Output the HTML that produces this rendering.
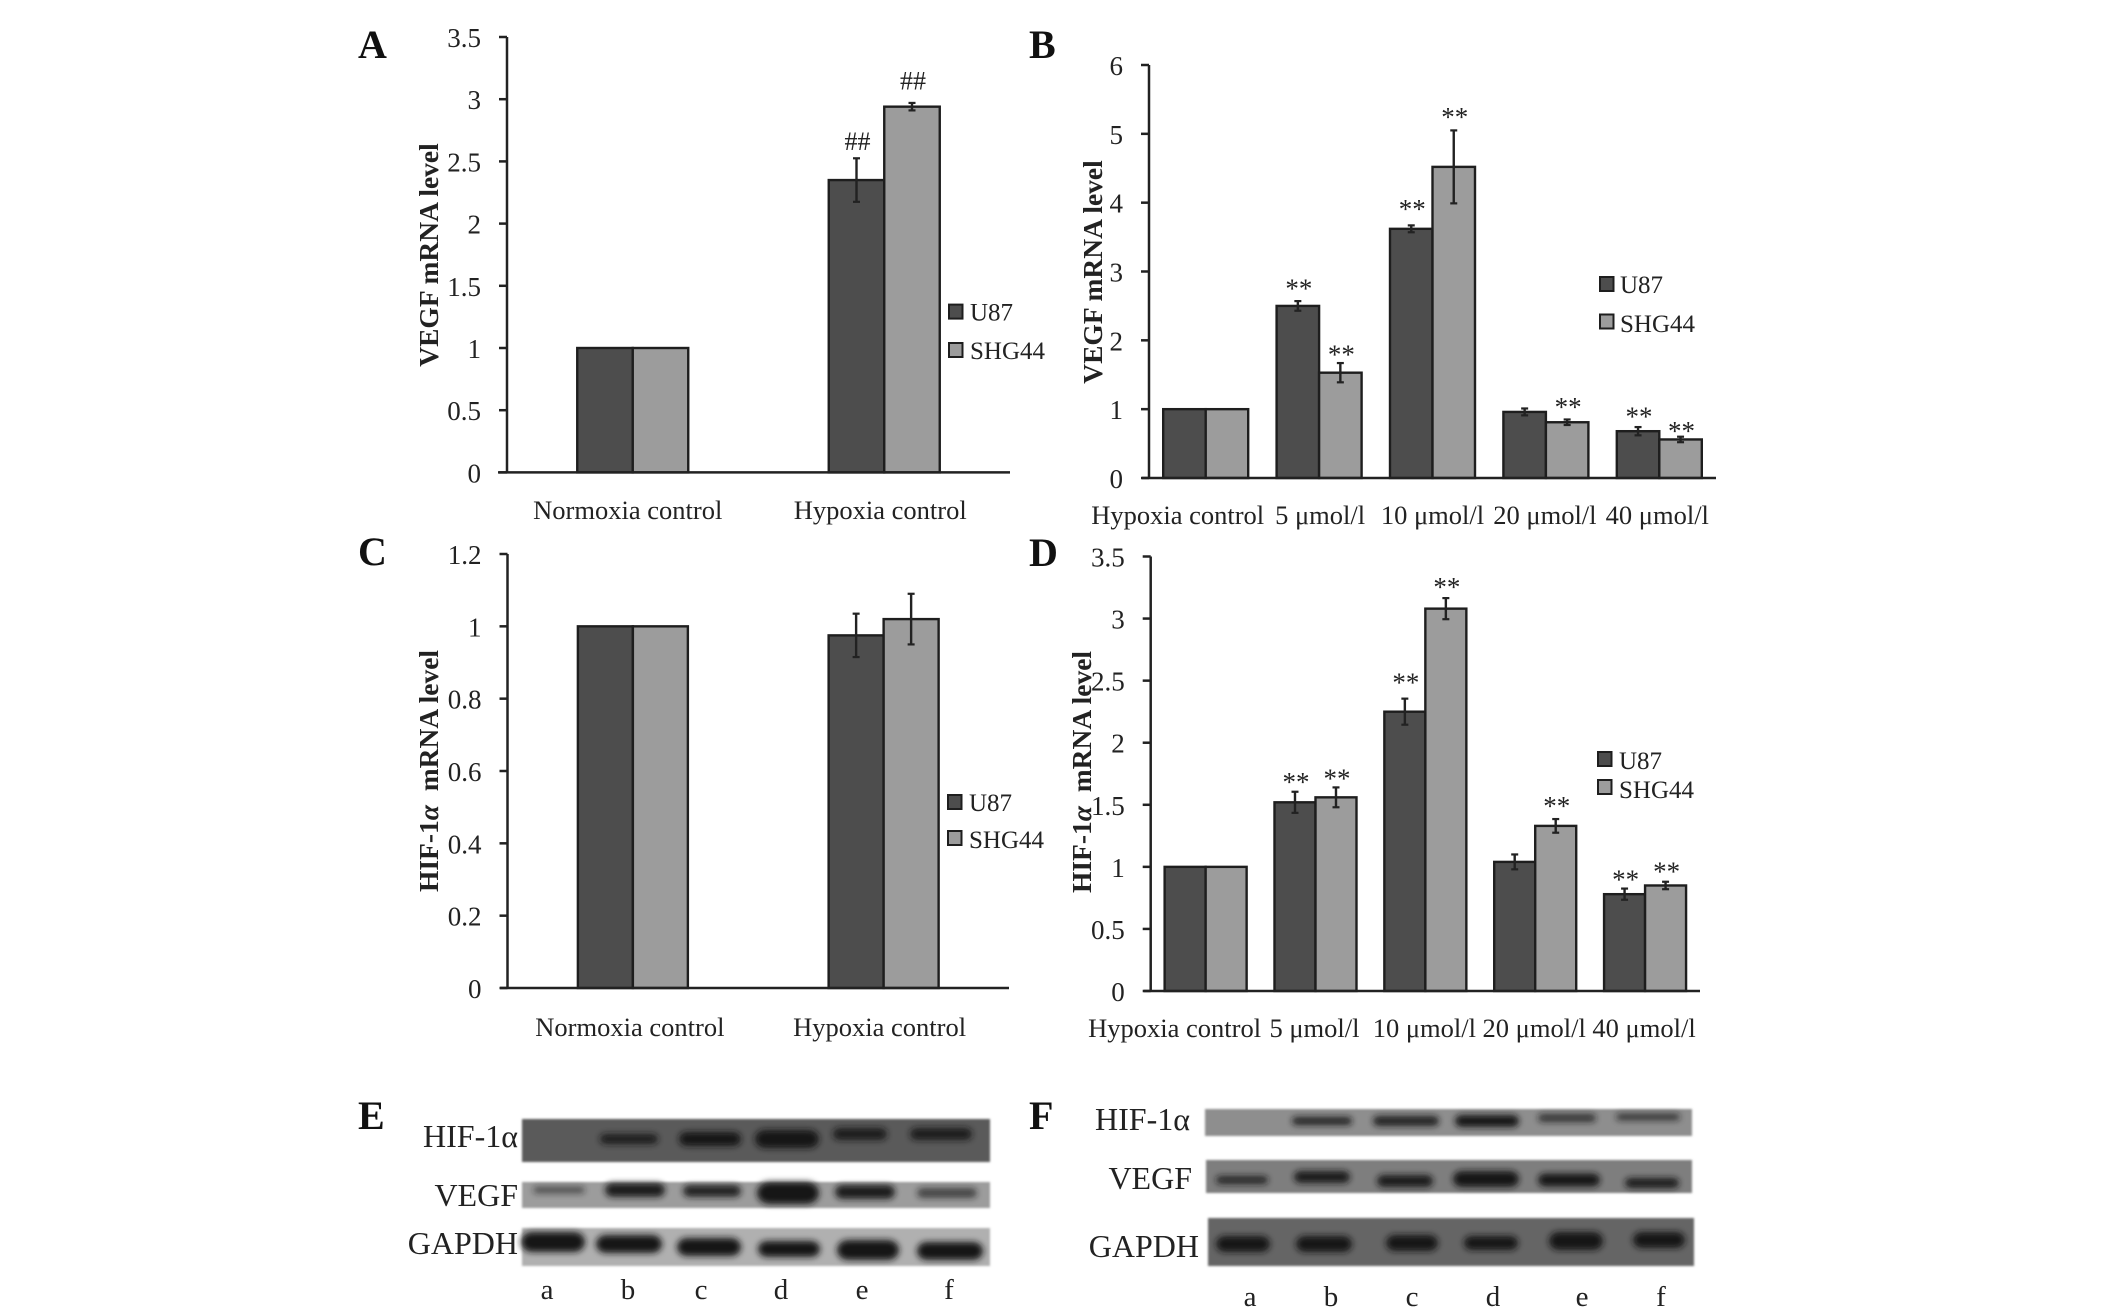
<!DOCTYPE html>
<html>
<head>
<meta charset="utf-8">
<title>VEGF and HIF-1α expression figure</title>
<style>
html,body{margin:0;padding:0;background:#fff;}
svg{display:block;font-family:"Liberation Serif",serif;fill:#222;}
.letter{font-size:40px;font-weight:bold;fill:#111;}
.ytitle{font-size:27.5px;font-weight:bold;fill:#222;text-anchor:middle;}
.blot-label{font-size:32px;fill:#222;text-anchor:end;}
.lane{font-size:29px;fill:#222;text-anchor:middle;}
</style>
</head>
<body>
<svg id="figure" xmlns="http://www.w3.org/2000/svg" width="2126" height="1315" viewBox="0 0 2126 1315">
  <defs>
    <filter id="band-blur" x="-30%" y="-100%" width="160%" height="300%"><feGaussianBlur stdDeviation="3.2"/></filter>
    <filter id="strip-blur" x="-2%" y="-10%" width="104%" height="120%"><feGaussianBlur stdDeviation="1.1"/></filter>
  </defs>

  <text class="letter" x="358" y="58">A</text>
  <text class="letter" x="1029" y="58">B</text>
  <text class="letter" x="358" y="565">C</text>
  <text class="letter" x="1029" y="566">D</text>
  <text class="letter" x="358" y="1129">E</text>
  <text class="letter" x="1029" y="1129">F</text>

  <text class="ytitle" transform="translate(438,255) rotate(-90)">VEGF mRNA level</text>
  <text class="ytitle" transform="translate(1102,272) rotate(-90)">VEGF mRNA level</text>
  <text class="ytitle" transform="translate(438,771) rotate(-90)" xml:space="preserve">HIF-1<tspan font-style="italic">α</tspan>  mRNA level</text>
  <text class="ytitle" transform="translate(1091,772) rotate(-90)" xml:space="preserve">HIF-1<tspan font-style="italic">α</tspan>  mRNA level</text>

  <g id="charts"></g>
  <g id="blots"></g>

  <text class="blot-label" x="518" y="1147">HIF-1α</text>
  <text class="blot-label" x="518" y="1206">VEGF</text>
  <text class="blot-label" x="518" y="1254">GAPDH</text>
  <text class="blot-label" x="1190" y="1130">HIF-1α</text>
  <text class="blot-label" x="1192" y="1189">VEGF</text>
  <text class="blot-label" x="1199" y="1257">GAPDH</text>
</svg>

<script>
const seriesNames = ['U87', 'SHG44'];
const seriesFills = ['#4d4d4d', '#9c9c9c'];

const twoCategoriesA = ['Normoxia control', 'Hypoxia control'];
const doseCategories = ['Hypoxia control', '5 μmol/l', '10 μmol/l', '20 μmol/l', '40 μmol/l'];

const ticksA = ['0', '0.5', '1', '1.5', '2', '2.5', '3', '3.5'];
const u87A = [1, 2.35];
const shgA = [1, 2.94];
const u87ErrA = [0, 0.175];
const shgErrA = [0, 0.03];
const u87MarkA = [null, 2.65];
const shgMarkA = [null, 3.14];

const ticksB = ['0', '1', '2', '3', '4', '5', '6'];
const u87B = [1, 2.5, 3.62, 0.96, 0.68];
const shgB = [1, 1.53, 4.52, 0.81, 0.56];
const u87ErrB = [0, 0.07, 0.05, 0.05, 0.06];
const shgErrB = [0, 0.14, 0.53, 0.04, 0.04];
const u87MarkB = [null, 2.78, 3.94, null, 0.92];
const shgMarkB = [null, 1.82, 5.27, 1.06, 0.715];

const ticksC = ['0', '0.2', '0.4', '0.6', '0.8', '1', '1.2'];
const u87C = [1, 0.975];
const shgC = [1, 1.02];
const u87ErrC = [0, 0.06];
const shgErrC = [0, 0.07];
const u87MarkC = [null, null];
const shgMarkC = [null, null];

const ticksD = ['0', '0.5', '1', '1.5', '2', '2.5', '3', '3.5'];
const u87D = [1, 1.52, 2.25, 1.04, 0.78];
const shgD = [1, 1.56, 3.08, 1.33, 0.85];
const u87ErrD = [0, 0.085, 0.105, 0.06, 0.045];
const shgErrD = [0, 0.08, 0.085, 0.055, 0.03];
const u87MarkD = [null, 1.70, 2.50, null, 0.915];
const shgMarkD = [null, 1.728, 3.27, 1.507, 0.977];

const panels = [
  {id:'a', cats:twoCategoriesA, ticks:ticksA, u87:u87A, shg:shgA, ue:u87ErrA, se:shgErrA, um:u87MarkA, sm:shgMarkA, mark:'##',
   left:507, right:1010, start:498, top:37, base:472.4, barW:55.5, catY:519, catShift:[-5,-4],
   legX:949, legTextX:970, legY:[304.6,343], legBase:[320.5,359]},
  {id:'b', cats:doseCategories, ticks:ticksB, u87:u87B, shg:shgB, ue:u87ErrB, se:shgErrB, um:u87MarkB, sm:shgMarkB, mark:'**',
   left:1149, right:1716, start:1142, top:65, base:478, barW:42.5, catY:524, catShift:[-28,1,0,-1,-2],
   legX:1600, legTextX:1620, legY:[277,314.5], legBase:[293,332]},
  {id:'c', cats:twoCategoriesA, ticks:ticksC, u87:u87C, shg:shgC, ue:u87ErrC, se:shgErrC, um:u87MarkC, sm:shgMarkC, mark:'',
   left:507.5, right:1009, start:500, top:554, base:988, barW:55, catY:1036, catShift:[-3,-4],
   legX:948, legTextX:969, legY:[795,831], legBase:[811,848]},
  {id:'d', cats:doseCategories, ticks:ticksD, u87:u87D, shg:shgD, ue:u87ErrD, se:shgErrD, um:u87MarkD, sm:shgMarkD, mark:'**',
   left:1150.7, right:1700, start:1143.6, top:556.5, base:991, barW:41, catY:1037, catShift:[-31,-1,-1,-1,-1],
   legX:1598, legTextX:1619, legY:[752,780], legBase:[769,798]}
];

const bladeE = [
  {name:'e-hif', x:522, y:1119, w:468, h:43, bg:'#5a5a5a', dy:-4, bands:[[629,29,1143,5,.9],[710,31,1143,7,1],[787,32,1143,9,1],[860,27,1138,6,.9],[941,31,1138,6,.9]]},
  {name:'e-vegf', x:522, y:1182, w:468, h:26, bg:'#9c9c9c', dy:-5, bands:[[559,26,1195,3.5,.55],[635,30,1195,7,.95],[712,29,1196,6,.9],[788,31,1198,11,1],[865,30,1197,7,.95],[947,30,1198,5,.65]]},
  {name:'e-gapdh', x:522, y:1228, w:468, h:38, bg:'#b0b0b0', dy:-6, bands:[[553,32,1248,10,1],[629,33,1250,9,1],[709,32,1253,9,1],[789,31,1255,8,1],[868,31,1256,10,1],[950,33,1257,9,1]]}
];
const bladeF = [
  {name:'f-hif', x:1205, y:1109, w:487, h:27, bg:'#8e8e8e', dy:-1, bands:[[1322,30,1122,4,.9],[1406,33,1122,5,.9],[1487,32,1122,6,1],[1567,29,1119,4,.75],[1648,32,1118,3.5,.7]]},
  {name:'f-vegf', x:1206, y:1160, w:486, h:33, bg:'#7e7e7e', dy:-4, bands:[[1242,26,1184,4,.85],[1322,28,1181,6,.95],[1405,28,1185,6,.95],[1486,33,1183,8,1],[1569,31,1184,6.5,1],[1652,27,1187,5,.95]]},
  {name:'f-gapdh', x:1208, y:1218, w:486, h:48, bg:'#656565', dy:-6, bands:[[1243,27,1250,8,1],[1324,28,1250,8,1],[1412,26,1249,8,1],[1491,27,1249,7,1],[1576,27,1247,9,1],[1659,26,1246,8,1]]}
];
const laneLabels = ['a', 'b', 'c', 'd', 'e', 'f'];
const laneCentersE = [547, 628, 701, 781, 862, 949];
const laneCentersF = [1250, 1331, 1412, 1493, 1582, 1661];

const NS = 'http://www.w3.org/2000/svg';
const chartRoot = document.getElementById('charts');
const blotRoot = document.getElementById('blots');

function make(tag, parent) {
  const el = document.createElementNS(NS, tag);
  parent.appendChild(el);
  return el;
}
function line(parent, x1, y1, x2, y2, w) {
  const el = make('line', parent);
  el.setAttribute('x1', x1);
  el.setAttribute('y1', y1);
  el.setAttribute('x2', x2);
  el.setAttribute('y2', y2);
  el.setAttribute('stroke', '#222');
  el.setAttribute('stroke-width', w);
  return el;
}
function label(parent, x, y, str, size, anchor) {
  const el = make('text', parent);
  el.setAttribute('x', x);
  el.setAttribute('y', y);
  el.setAttribute('font-size', size);
  el.setAttribute('text-anchor', anchor);
  el.textContent = str;
  return el;
}

panels.forEach(function (p) {
  const g = make('g', chartRoot);
  
  

  const maxVal = parseFloat(p.ticks[p.ticks.length - 1]);
  const yScale = function (v) { return p.base - (v / maxVal) * (p.base - p.top); };
  const band = (p.right - p.left) / p.cats.length;
  const xCenter = function (i) { return p.left + (i + 0.5) * band; };

  p.cats.forEach(function (cat, i) {
    [[p.u87, p.ue, p.um, 0], [p.shg, p.se, p.sm, 1]].forEach(function (s) {
      const vals = s[0], errs = s[1], marks = s[2], k = s[3];
      const x = xCenter(i) - p.barW + k * p.barW;
      const bar = make('rect', g);
      
      
      bar.setAttribute('x', x);
      bar.setAttribute('y', yScale(vals[i]));
      bar.setAttribute('width', p.barW);
      bar.setAttribute('height', p.base - yScale(vals[i]));
      bar.setAttribute('fill', seriesFills[k]);
      bar.setAttribute('stroke', '#1e1e1e');
      bar.setAttribute('stroke-width', '2.4');
      const cx = x + p.barW / 2;
      if (errs[i] > 0) {
        const eb = make('g', g);
        
        
        const hi = yScale(vals[i] + errs[i]);
        const lo = yScale(vals[i] - errs[i]);
        line(eb, cx, hi, cx, lo, 2.4);
        line(eb, cx - 3.5, hi, cx + 3.5, hi, 2.2);
        line(eb, cx - 3.5, lo, cx + 3.5, lo, 2.2);
      }
      if (marks[i] !== null) {
        const mk = label(g, cx + 1, yScale(marks[i]) + (p.mark === '**' ? 11 : 7.5), p.mark, p.mark === '**' ? 27 : 26, 'middle');
        
        
      }
    });
    const c = label(g, xCenter(i) + p.catShift[i], p.catY, cat, 26.5, 'middle');
    
    
  });

  const yAxis = line(g, p.left, p.top, p.left, p.base, 2.5);
  
  
  const xAxis = line(g, p.start, p.base, p.right, p.base, 2.5);
  
  

  p.ticks.forEach(function (t, i) {
    const y = yScale(parseFloat(t));
    const tk = line(g, p.left - 8, y, p.left, y, 2.5);
    
    
    const tl = label(g, p.left - 26, y + 10, t, 27, 'end');
    
    
  });

  seriesNames.forEach(function (name, k) {
    const sw = make('rect', g);
    
    
    sw.setAttribute('x', p.legX);
    sw.setAttribute('y', p.legY[k]);
    sw.setAttribute('width', 13.5);
    sw.setAttribute('height', 14);
    sw.setAttribute('fill', seriesFills[k]);
    sw.setAttribute('stroke', '#1e1e1e');
    sw.setAttribute('stroke-width', '2');
    const lt = label(g, p.legTextX, p.legBase[k], name, 25, 'start');
    
    
  });
});

bladeE.concat(bladeF).forEach(function (strip) {
  const g = make('g', blotRoot);
  
  
  const bg = make('rect', g);
  bg.setAttribute('x', strip.x);
  bg.setAttribute('y', strip.y);
  bg.setAttribute('width', strip.w);
  bg.setAttribute('height', strip.h);
  bg.setAttribute('fill', strip.bg);
  bg.setAttribute('filter', 'url(#strip-blur)');
  strip.bands.forEach(function (b, i) {
    const e = make('rect', g);
    
    
    e.setAttribute('x', b[0] - b[1]);
    e.setAttribute('width', 2 * b[1]);
    e.setAttribute('y', b[2] + strip.dy - b[3]);
    e.setAttribute('height', 2 * b[3]);
    e.setAttribute('rx', b[3] * 1.1);
    e.setAttribute('opacity', b[4]);
    e.setAttribute('fill', '#121212');
    e.setAttribute('filter', 'url(#band-blur)');
  });
});

laneLabels.forEach(function (l, i) {
  const a = make('text', blotRoot);
  a.setAttribute('class', 'lane');
  a.setAttribute('x', laneCentersE[i]);
  a.setAttribute('y', 1299);
  
  
  a.textContent = l;
  const b = make('text', blotRoot);
  b.setAttribute('class', 'lane');
  b.setAttribute('x', laneCentersF[i]);
  b.setAttribute('y', 1306);
  
  
  b.textContent = l;
});
</script>
</body>
</html>
